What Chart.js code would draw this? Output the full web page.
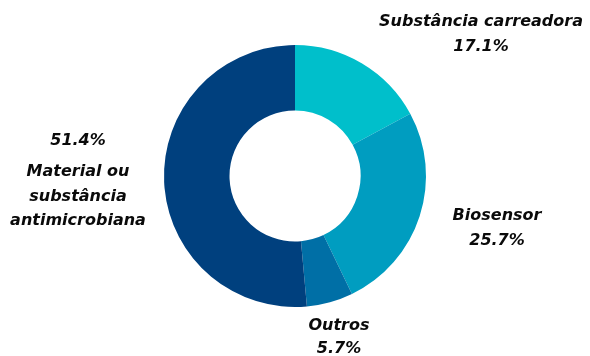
<!DOCTYPE html>
<html>
<head>
<meta charset="utf-8">
<script src="https://cdn.jsdelivr.net/npm/chart.js@4"></script>
<style>
  html, body { margin: 0; padding: 0; background: #fff; }
  #wrap { width: 590px; height: 356px; }
</style>
</head>
<body>
<div id="wrap"><canvas id="myChart"></canvas></div>
<script>
const categories = ['Substância carreadora', 'Biosensor', 'Outros', 'Material ou substância antimicrobiana'];
const shares = [17.1, 25.7, 5.7, 51.4];
const colors = ['#00BFCB', '#009DC0', '#006FA6', '#00407E'];

// label blocks: lines of text, placed relative to the doughnut centre
const labelBlocks = [
  { lines: ['Substância carreadora', '17.1%'], dx: 186, dy: -154, gap: 25 },
  { lines: ['Biosensor', '25.7%'], dx: 202, dy: 40, gap: 25 },
  { lines: ['Outros', '5.7%'], dx: 44, dy: 150, gap: 23 },
  { lines: ['51.4%', 'Material ou', 'substância', 'antimicrobiana'], dx: -217, dy: -35, gap: [31, 25, 24] }
];

const sliceLabels = {
  id: 'sliceLabels',
  afterDraw(chart) {
    const arc = chart.getDatasetMeta(0).data[0];
    const ctx = chart.ctx;
    ctx.save();
    ctx.font = 'italic bold 16px "DejaVu Sans"';
    ctx.fillStyle = '#0a0a0a';
    ctx.textAlign = 'center';
    ctx.textBaseline = 'middle';
    labelBlocks.forEach(b => {
      let y = arc.y + b.dy;
      b.lines.forEach((t, i) => {
        ctx.fillText(t, arc.x + b.dx, y);
        y += Array.isArray(b.gap) ? (b.gap[i] || 0) : b.gap;
      });
    });
    ctx.restore();
  }
};

const config = {
  type: 'doughnut',
  data: {
    labels: categories,
    datasets: [{
      data: shares,
      backgroundColor: colors,
      borderWidth: 0
    }]
  },
  options: {
    responsive: true,
    maintainAspectRatio: false,
    animation: false,
    cutout: '50%',
    layout: { padding: { top: 45, bottom: 49 } },
    plugins: {
      legend: { display: false },
      tooltip: { enabled: false }
    }
  },
  plugins: [sliceLabels]
};

const myChart = new Chart(document.getElementById('myChart'), config);
</script>
</body>
</html>
